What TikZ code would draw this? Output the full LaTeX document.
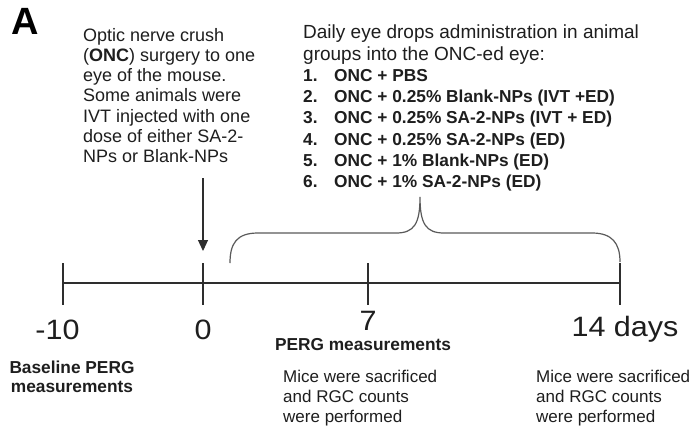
\documentclass[tikz,border=0pt]{standalone}
\usepackage{fontspec}
\setmainfont{Liberation Sans}
\usetikzlibrary{arrows.meta}
\definecolor{ink}{HTML}{1E1E1E}
\definecolor{linec}{HTML}{2E2E2E}
\definecolor{bracec}{HTML}{5A5A5A}
\tikzset{
  body/.style={font=\fontsize{18}{20.2}\selectfont, text=ink, align=left, inner sep=0pt, anchor=north west},
  bodyr/.style={font=\fontsize{19}{21.3}\selectfont, text=ink, align=left, inner sep=0pt, anchor=north west},
  listtxt/.style={font=\fontsize{17.3}{21.1}\selectfont\bfseries, text=ink, align=left, inner sep=0pt, anchor=north west},
  panel/.style={font=\fontsize{38}{38}\selectfont\bfseries, text=black, inner sep=0pt, anchor=north west},
  bignum/.style={font=\fontsize{28}{30}\selectfont, text=ink, inner sep=0pt},
  boldlbl/.style={font=\fontsize{17.3}{19.5}\selectfont\bfseries, text=ink, align=center, inner sep=0pt},
  note/.style={font=\fontsize{17}{20}\selectfont, text=ink, align=left, inner sep=0pt, anchor=north west},
  tl/.style={draw=linec, line width=1.5pt},
  bracepath/.style={draw=bracec, line width=1.2pt},
  arr/.style={draw=linec, line width=1.1pt, -{Triangle[width=10pt,length=11pt]}}
}
\newcommand{\itm}[2]{\makebox[31pt][l]{#1}#2}
\newcommand{\wide}[1]{\scalebox{1.09}[1]{#1}}
\begin{document}
\begin{tikzpicture}[x=1pt,y=-1pt]
\useasboundingbox (0,0) rectangle (695,429);
\fill[white] (0,0) rectangle (695,429);

% panel letter
\node[panel] (lbl) at (11,8) {A};

% top-left description
\node[body] (onc) at (83,28) {Optic nerve crush\\(\textbf{ONC}) surgery to one\\eye of the mouse.\\Some animals were\\IVT injected with one\\dose of either SA-2-\\NPs or Blank-NPs};

% top-right description
\node[bodyr] (daily) at (303,25) {Daily eye drops administration in animal\\groups into the ONC-ed eye:};
\node[listtxt] (groups) at (303,69.5) {\itm{1.}{ONC + PBS}\\
\itm{2.}{ONC + 0.25\% Blank-NPs (IVT +ED)}\\
\itm{3.}{ONC + 0.25\% SA-2-NPs (IVT + ED)}\\
\itm{4.}{ONC + 0.25\% SA-2-NPs (ED)}\\
\itm{5.}{ONC + 1\% Blank-NPs (ED)}\\
\itm{6.}{ONC + 1\% SA-2-NPs (ED)}};

% timeline points
\coordinate (tm10) at (63,283);
\coordinate (t0) at (203,283);
\coordinate (t7) at (368,283);
\coordinate (t14) at (620,283);
\draw[tl] (tm10) -- (t14);
\foreach \c in {tm10,t0,t7,t14}
  \draw[tl] (\c) ++(0,-20) -- ++(0,42);

% arrow to day 0
\coordinate (arrstart) at (203,178);
\coordinate (arrend) at (203,251);
\draw[arr] (arrstart) -- (arrend);

% brace
\coordinate (bl) at (230,263);
\coordinate (br) at (620,262);
\coordinate (btip) at (420,197);
\draw[bracepath] (bl) .. controls (230,243) and (237,233) .. (258,233) -- (396,233)
  .. controls (414,233) and (420,224) .. (btip)
  .. controls (420,224) and (426,233) .. (444,233) -- (592,233)
  .. controls (612,233) and (620,243) .. (br);

% day labels
\node[bignum] (lm10) at (57.5,330) {\wide{-10}};
\node[bignum] (l0) at (203,330) {\wide{0}};
\node[bignum] (l7) at (368,321) {\wide{7}};
\node[bignum] (l14) at (625,329) {\wide{14 days}};

% bottom labels
\node[boldlbl] (base) at (72,377) {Baseline PERG\\measurements};
\node[boldlbl] (perg) at (363,345) {PERG measurements};
\node[note] (sac7) at (283,370) {Mice were sacrificed\\and RGC counts\\were performed};
\node[note] (sac14) at (536,370) {Mice were sacrificed\\and RGC counts\\were performed};
\end{tikzpicture}
\end{document}
